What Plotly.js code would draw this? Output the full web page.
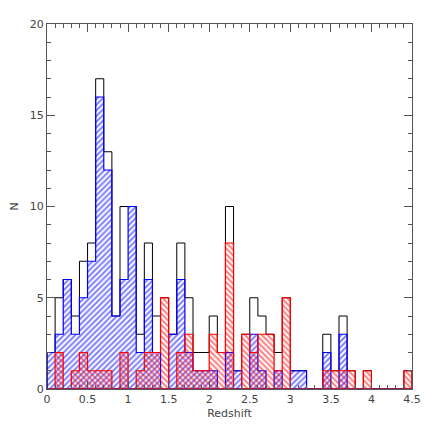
<!DOCTYPE html>
<html><head><meta charset="utf-8">
<script src="https://cdn.plot.ly/plotly-3.0.1.min.js"></script>
<style>html,body{margin:0;padding:0;background:#fff}</style>
</head><body><div id="plot" style="width:436px;height:436px"></div>
<script>
// Histogram bins: width 0.1 from 0 to 4.5
var binStart = 0, binWidth = 0.1;
var totalCounts = [2,5,6,4,7,8,17,13,4,10,10,3,8,4,5,3,8,5,2,2,4,2,10,1,3,5,4,3,2,5,1,1,0,0,3,1,4,1,0,1,0,0,0,0,1];
var blueCounts  = [2,3,6,3,5,7,16,12,4,6,10,2,6,2,0,3,6,2,1,1,1,0,2,1,0,3,1,0,1,0,1,1,0,0,2,0,3,0,0,0,0,0,0,0,0];
var redCounts   = [0,2,0,1,2,1,1,1,0,2,0,1,2,2,5,0,2,3,1,1,3,2,8,0,3,2,3,3,1,5,0,0,0,0,1,1,1,1,0,1,0,0,0,0,1];
var xTicks = [0,0.5,1,1.5,2,2.5,3,3.5,4,4.5];
var yTicks = [0,5,10,15,20];

function stepPath(counts){
  var xs=[binStart], ys=[0];
  for(var i=0;i<counts.length;i++){ xs.push(+(binStart+i*binWidth).toFixed(3)); ys.push(counts[i]); }
  var end = +(binStart+counts.length*binWidth).toFixed(3);
  xs.push(end); ys.push(0);
  xs.push(binStart); ys.push(0);
  return {x:xs,y:ys};
}
var T = stepPath(totalCounts), B = stepPath(blueCounts), R = stepPath(redCounts);
var traces = [
  {x:T.x,y:T.y,mode:'lines',line:{shape:'hv',color:'#000',width:1},hoverinfo:'skip',showlegend:false},
  {x:B.x,y:B.y,mode:'lines',line:{shape:'hv',color:'#0000ff',width:1.2},fill:'toself',fillcolor:'rgba(0,0,0,0)',
   fillpattern:{shape:'/',fgcolor:'#0000ff',bgcolor:'rgba(0,0,0,0)',size:4,solidity:0.5,fillmode:'overlay'},hoverinfo:'skip',showlegend:false},
  {x:R.x,y:R.y,mode:'lines',line:{shape:'hv',color:'#ff0000',width:1.2},fill:'toself',fillcolor:'rgba(0,0,0,0)',
   fillpattern:{shape:'\\',fgcolor:'#ff0000',bgcolor:'rgba(0,0,0,0)',size:4,solidity:0.5,fillmode:'overlay'},hoverinfo:'skip',showlegend:false}
];
var axisFont = {family:'DejaVu Sans, sans-serif',size:11,color:'#444'};
var layout = {
  width:436,height:436,
  margin:{l:47,r:24,t:24,b:47},
  paper_bgcolor:'#fff',plot_bgcolor:'#fff',
  showlegend:false,
  xaxis:{range:[0,4.5],tickvals:xTicks,ticktext:xTicks.map(String),ticks:'inside',ticklen:8,tickcolor:'#555',
    showline:true,linecolor:'#555',linewidth:1,mirror:'allticks',showgrid:false,zeroline:false,
    minor:{dtick:0.1,ticks:'inside',ticklen:4,tickcolor:'#555',showgrid:false},
    tickfont:axisFont,title:{text:'Redshift',font:axisFont,standoff:4}},
  yaxis:{range:[0,20],tickvals:yTicks,ticks:'inside',ticklen:8,tickcolor:'#555',
    showline:true,linecolor:'#555',linewidth:1,mirror:'allticks',showgrid:false,zeroline:false,
    minor:{dtick:1,ticks:'inside',ticklen:4,tickcolor:'#555',showgrid:false},
    tickfont:axisFont,title:{text:'N',font:axisFont,standoff:8}}
};
Plotly.newPlot('plot',traces,layout,{staticPlot:true});
</script></body></html>
